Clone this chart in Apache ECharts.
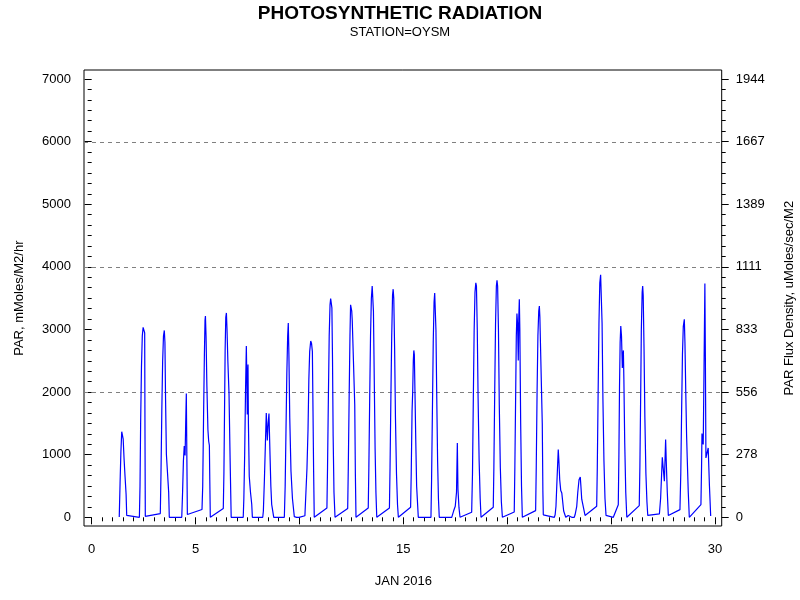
<!DOCTYPE html>
<html>
<head>
<meta charset="utf-8">
<script src="https://cdn.jsdelivr.net/npm/echarts@6/dist/echarts.min.js"></script>
<style>
html,body{margin:0;padding:0;background:#fff;}
#chart{width:800px;height:600px;}
</style>
</head>
<body>
<div id="chart"></div>
<script>
// ---- Data: [day of January 2016, PAR mMoles/M2/hr] ----
const week1 = [
  [1.36,5],[1.40,550],[1.44,1050],[1.48,1370],[1.51,1390],[1.55,1250],[1.59,950],[1.64,650],[1.69,370],[1.72,30],
  [2.33,0],
  [2.36,500],[2.39,1500],[2.43,2400],[2.47,2900],[2.51,3040],[2.55,3060],[2.585,2950],[2.60,1300],[2.615,15],
  [3.337,60],
  [3.37,700],[3.41,1700],[3.45,2500],[3.49,2900],[3.53,2990],[3.56,2800],[3.59,1900],[3.63,1010],[3.715,1010],[3.74,400],[3.77,0],
  [4.37,0],
  [4.41,400],[4.45,900],[4.49,1140],[4.53,990],[4.56,1500],[4.59,1980],[4.615,1000],[4.64,45],
  [5.345,125],
  [5.38,500],[5.42,1600],[5.46,2600],[5.49,3150],[5.51,3220],[5.54,2900],[5.58,2100],[5.63,1400],[5.667,1217],[5.70,1150],[5.72,600],[5.745,0],
  [6.37,140],
  [6.40,700],[6.43,1700],[6.46,2700],[6.49,3200],[6.52,3270],[6.55,3000],[6.59,2500],[6.645,1990],[6.70,900],[6.74,176],[6.75,0],
  [7.33,0]
];
const week2 = [
  [7.36,300],[7.40,1000],[7.44,2000],[7.48,2740],[7.50,2300],[7.526,1645],[7.545,2300],[7.56,2446],[7.58,1500],[7.62,657],[7.68,400],[7.74,208],[7.77,0],
  [8.27,0],
  [8.30,100],[8.35,600],[8.40,1200],[8.44,1670],[8.49,1230],[8.53,1500],[8.57,1660],[8.62,1000],[8.66,500],[8.70,208],[8.80,0],
  [9.31,0],
  [9.35,500],[9.39,1400],[9.43,2300],[9.47,2900],[9.50,3110],[9.53,2600],[9.57,1600],[9.63,737],[9.70,300],[9.79,10],
  [9.82,0],[9.87,40],[9.90,0],[9.95,30],[10.02,0],[10.11,25],[10.30,25],[10.38,30],
  [10.40,790],[10.425,790],[10.45,1400],[10.49,2200],[10.53,2650],[10.58,2820],[10.62,2780],[10.66,2650],[10.69,1700],[10.72,737],[10.75,0],
  [11.36,150],
  [11.39,800],[11.43,1900],[11.47,2900],[11.51,3400],[11.54,3500],[11.57,3500],[11.60,3350],[11.63,2500],[11.66,1300],[11.70,400],[11.75,0],
  [12.36,140],
  [12.39,800],[12.43,1900],[12.47,2900],[12.50,3400],[12.53,3430],[12.555,3300],[12.58,3150],[12.66,3150],[12.70,1800],[12.73,700],[12.76,0],
  [13.35,150],
  [13.38,800],[13.42,1900],[13.46,2900],[13.50,3500],[13.54,3700],[13.57,3700],[13.60,3300],[13.64,2200],[13.68,1100],[13.72,400],[13.76,0],
  [14.37,150]
];
const week3 = [
  [14.40,800],[14.44,1900],[14.48,2900],[14.52,3550],[14.55,3650],[14.58,3500],[14.62,2700],[14.66,1600],[14.71,700],[14.76,200],[14.80,0],
  [15.39,160],
  [15.42,700],[15.46,1700],[15.49,2000],[15.52,2500],[15.545,2670],[15.57,2600],[15.60,2000],[15.64,1200],[15.68,500],[15.76,0],[15.78,30],[15.80,0],
  [16.37,0],
  [16.40,600],[16.44,1700],[16.48,2800],[16.52,3450],[16.55,3590],[16.58,3560],[16.61,3000],[16.65,1900],[16.69,900],[16.73,300],[16.77,0],
  [17.37,0],
  [17.46,100],[17.54,176],[17.60,400],[17.64,1190],[17.67,450],[17.72,150],[17.77,0],
  [18.33,80],
  [18.37,700],[18.41,1900],[18.45,3000],[18.49,3600],[18.53,3750],[18.56,3700],[18.60,3000],[18.64,1900],[18.69,900],[18.74,300],[18.78,0],
  [19.37,160],
  [19.40,800],[19.44,2000],[19.48,3100],[19.52,3700],[19.55,3790],[19.58,3700],[19.62,3000],[19.66,1800],[19.71,800],[19.76,250],[19.81,0],
  [20.38,85],
  [20.41,800],[20.45,2000],[20.48,2900],[20.51,3260],[20.54,3100],[20.575,2510],[20.60,3200],[20.625,3490],[20.65,3000],[20.69,1500],[20.73,500],[20.77,0],
  [21.41,107]
];
const week4 = [
  [21.44,800],[21.48,2000],[21.52,2900],[21.56,3300],[21.59,3380],[21.615,3200],[21.64,2820],[21.70,2820],[21.73,1500],[21.76,400],[21.78,40],
  [22.31,0],
  [22.35,40],[22.39,176],[22.44,600],[22.50,1084],[22.53,900],[22.57,600],[22.62,427],[22.67,390],[22.71,420],[22.76,100],[22.86,0],
  [22.98,30],[23.05,0],[23.15,0],[23.24,30],[23.27,0],[23.31,40],
  [23.39,176],[23.44,400],[23.50,600],[23.56,646],[23.59,500],[23.63,290],[23.71,290],[23.79,30],
  [24.35,176],
  [24.38,800],[24.42,2000],[24.46,3100],[24.50,3750],[24.54,3880],[24.57,3850],[24.61,3100],[24.65,1900],[24.70,900],[24.75,300],[24.80,30],[24.83,30],
  [25.15,0],[25.39,200],
  [25.42,1000],[25.45,2100],[25.48,2800],[25.51,3060],[25.545,2900],[25.585,2390],[25.61,2600],[25.635,2670],[25.66,2200],[25.70,1200],[25.75,400],[25.80,0],
  [26.40,187],
  [26.43,800],[26.47,2000],[26.50,3000],[26.54,3600],[26.565,3700],[26.59,3550],[26.63,2700],[26.67,1600],[26.72,700],[26.77,250],[26.81,30],
  [27.37,55],
  [27.43,310],[27.51,961],[27.55,800],[27.61,577],[27.67,1245],[27.70,900],[27.75,400],[27.80,30],
  [28.36,123]
];
const week5 = [
  [28.40,700],[28.44,1700],[28.48,2600],[28.52,3050],[28.57,3167],[28.60,2800],[28.64,2000],[28.68,1300],[28.71,950],[28.76,400],[28.81,0],
  [29.37,203],
  [29.40,800],[29.42,1340],[29.45,1250],[29.48,1164],[29.52,2400],[29.56,3740],[29.585,2500],[29.61,950],[29.66,920],[29.72,1110],[29.78,500],[29.84,20]
];
const gridLineValues = [2000, 4000, 6000];
const titleText = 'PHOTOSYNTHETIC RADIATION';
const subtitleText = 'STATION=OYSM';
const xName = 'JAN 2016';
const leftName = 'PAR, mMoles/M2/hr';
const rightName = 'PAR Flux Density, uMoles/sec/M2';
const fluxFactor = 3.6; // mMoles/M2/hr -> uMoles/sec/M2

const parData = [].concat(week1, week2, week3, week4, week5);

const FONT = '"Liberation Sans", Arial, sans-serif';
const chart = echarts.init(document.getElementById('chart'), null, {renderer: 'canvas'});
const tickStyle = {color: '#000', width: 1};
const axisText = {color: '#000', fontSize: 13, fontFamily: FONT};

const option = {
  backgroundColor: '#fff',
  animation: false,
  textStyle: {fontFamily: FONT},
  title: {
    text: titleText,
    subtext: subtitleText,
    left: 'center',
    top: -1,
    itemGap: 3,
    textStyle: {fontFamily: FONT, fontSize: 19, fontWeight: 'bold', color: '#000'},
    subtextStyle: {fontFamily: FONT, fontSize: 13, color: '#000'}
  },
  grid: [
    {left: 84, right: 78.3, top: 70, bottom: 74, show: true, borderColor: '#000', borderWidth: 1,
     backgroundColor: 'transparent', containLabel: false, outerBoundsMode: 'none'},
    {left: 91.67, right: 85, top: 79, bottom: 82.7, show: false, containLabel: false, outerBoundsMode: 'none'}
  ],
  xAxis: [
    {gridIndex: 0, type: 'value', min: -0.3371, max: 30.37, show: false},
    {
      gridIndex: 1, type: 'value', min: 0, max: 30, interval: 5, position: 'bottom', offset: 8.7,
      axisLine: {show: false},
      axisTick: {show: true, length: 7, lineStyle: tickStyle},
      minorTick: {show: true, splitNumber: 10, length: 4, lineStyle: tickStyle},
      splitLine: {show: false},
      axisLabel: Object.assign({margin: 17, formatter: v => String(v)}, axisText),
      name: xName, nameLocation: 'middle', nameGap: 49,
      nameTextStyle: axisText
    }
  ],
  yAxis: [
    {gridIndex: 0, type: 'value', min: -139.2, max: 7156.8, show: false},
    {
      gridIndex: 1, type: 'value', min: 0, max: 7000, interval: 1000, position: 'left', offset: 7.67,
      axisLine: {show: false},
      axisTick: {show: true, length: 7, lineStyle: tickStyle},
      minorTick: {show: true, splitNumber: 6, length: 4, lineStyle: tickStyle},
      splitLine: {show: false},
      axisLabel: Object.assign({margin: 13, formatter: v => String(v)}, axisText),
      name: leftName, nameLocation: 'middle', nameGap: 58,
      nameTextStyle: axisText
    },
    {
      gridIndex: 1, type: 'value', min: 0, max: 7000, interval: 1000, position: 'right', offset: 6.7,
      axisLine: {show: false},
      axisTick: {show: true, length: 7, lineStyle: tickStyle},
      minorTick: {show: true, splitNumber: 6, length: 4, lineStyle: tickStyle},
      splitLine: {show: false},
      axisLabel: Object.assign({margin: 14, formatter: v => String(Math.round(v / fluxFactor))}, axisText),
      name: rightName, nameLocation: 'middle', nameGap: 61,
      nameTextStyle: axisText
    }
  ],
  series: [{
    type: 'line',
    xAxisIndex: 0,
    yAxisIndex: 0,
    data: parData,
    showSymbol: false,
    symbol: 'none',
    clip: false,
    lineStyle: {color: '#0000ff', width: 1.2},
    z: 3,
    markLine: {
      silent: true,
      symbol: 'none',
      label: {show: false},
      lineStyle: {color: '#808080', type: [4, 4], width: 1},
      data: gridLineValues.map(v => ({yAxis: v})),
      z: 1
    }
  }]
};
chart.setOption(option);
</script>
</body>
</html>
